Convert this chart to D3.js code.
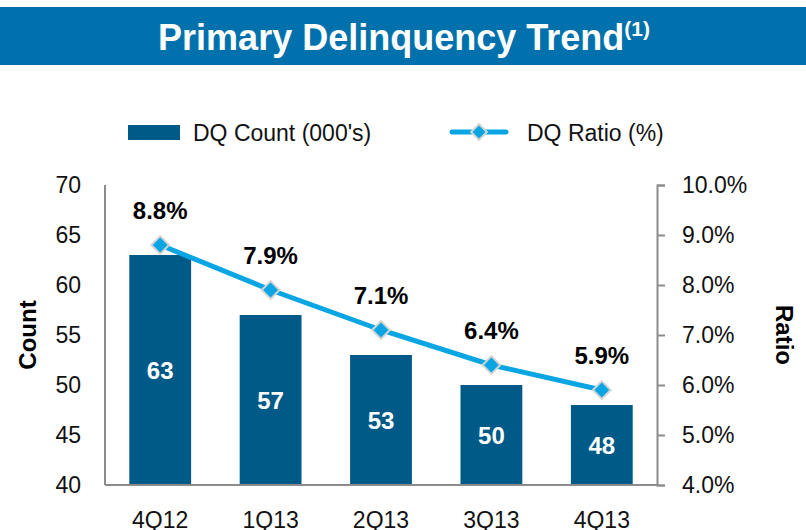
<!DOCTYPE html>
<html>
<head>
<meta charset="utf-8">
<script src="https://cdn.jsdelivr.net/npm/d3@7"></script>
<style>
  html, body { margin: 0; padding: 0; background: #fff; }
  svg { display: block; font-family: "Liberation Sans", Arial, sans-serif; }
</style>
</head>
<body>
<svg id="chart" width="806" height="530"></svg>
<script>
/* Primary Delinquency Trend — bars (count) + line (ratio) on dual axes */
const quarters = ["4Q12", "1Q13", "2Q13", "3Q13", "4Q13"];
const dqCount = [63, 57, 53, 50, 48];
const dqRatio = [8.8, 7.9, 7.1, 6.4, 5.9];
const countTicks = [40, 45, 50, 55, 60, 65, 70];
const ratioTicks = [4, 5, 6, 7, 8, 9, 10];

const BAR = "#005a87";
const LINE = "#0aa5e3";
const AXIS = "#8c8c8c";

const svg = d3.select("#chart");
const W = 806;
const m = { left: 105, right: 657, top: 185, bottom: 485 };

// title bar
svg.append("rect").attr("x", 0).attr("y", 7).attr("width", W).attr("height", 58).attr("fill", "#0071ad");
const title = svg.append("text")
  .attr("x", 404).attr("y", 50)
  .attr("text-anchor", "middle")
  .attr("fill", "#fff").attr("font-weight", "bold").attr("font-size", 36);
title.append("tspan").text("Primary Delinquency Trend");
title.append("tspan").attr("font-size", 21).attr("dy", -14).text("(1)");

const x = d3.scaleBand().domain(quarters).range([m.left, m.right]).paddingInner(0.44).paddingOuter(0.22);
const yL = d3.scaleLinear().domain([40, 70]).range([m.bottom, m.top]);
const yR = d3.scaleLinear().domain([4, 10]).range([m.bottom, m.top]);

// bars
svg.append("g").selectAll("rect")
  .data(quarters)
  .join("rect")
  .attr("x", (d) => x(d))
  .attr("width", x.bandwidth())
  .attr("y", (d, i) => yL(dqCount[i]))
  .attr("height", (d, i) => yL(40) - yL(dqCount[i]))
  .attr("fill", BAR);

// bar labels
svg.append("g").selectAll("text")
  .data(quarters)
  .join("text")
  .attr("x", (d) => x(d) + x.bandwidth() / 2)
  .attr("y", (d, i) => (yL(dqCount[i]) + yL(40)) / 2 + 9)
  .attr("text-anchor", "middle")
  .attr("fill", "#fff").attr("font-weight", "bold").attr("font-size", 24)
  .text((d, i) => dqCount[i]);

// axes lines
const axes = svg.append("g").attr("stroke", AXIS).attr("stroke-width", 2).attr("fill", "none");
axes.append("line").attr("x1", m.left).attr("x2", m.left).attr("y1", m.top).attr("y2", m.bottom);
axes.append("line").attr("x1", m.left).attr("x2", m.right).attr("y1", m.bottom).attr("y2", m.bottom);

// left tick labels
svg.append("g").selectAll("text")
  .data(countTicks)
  .join("text")
  .attr("x", 81).attr("y", (d) => yL(d) + 8)
  .attr("text-anchor", "end").attr("font-size", 23).attr("fill", "#111")
  .text((d) => d);

// right axis
const rAxis = svg.append("g")
  .attr("transform", `translate(${m.right},0)`)
  .call(d3.axisRight(yR).tickValues(ratioTicks).tickSize(8).tickPadding(17).tickFormat((d) => d.toFixed(1) + "%"));
rAxis.select(".domain").attr("stroke", AXIS).attr("stroke-width", 2);
rAxis.selectAll(".tick line").attr("stroke", AXIS).attr("stroke-width", 2);
rAxis.selectAll(".tick text").attr("font-size", 23).attr("fill", "#111").attr("font-family", "Liberation Sans, Arial, sans-serif");

// x labels (cut at the bottom edge, as in the source)
svg.append("g").selectAll("text")
  .data(quarters)
  .join("text")
  .attr("x", (d) => x(d) + x.bandwidth() / 2)
  .attr("y", 528)
  .attr("text-anchor", "middle").attr("font-size", 23).attr("fill", "#111")
  .text((d) => d);

// axis titles
svg.append("text")
  .attr("transform", "translate(36,335) rotate(-90)")
  .attr("text-anchor", "middle").attr("font-weight", "bold").attr("font-size", 24)
  .text("Count");
svg.append("text")
  .attr("transform", "translate(776,335) rotate(90)")
  .attr("text-anchor", "middle").attr("font-weight", "bold").attr("font-size", 24)
  .text("Ratio");

// ratio line
const cx = (d) => x(d) + x.bandwidth() / 2;
const line = d3.line().x((d, i) => cx(quarters[i])).y((d) => yR(d));
svg.append("path")
  .datum(dqRatio)
  .attr("d", line)
  .attr("fill", "none").attr("stroke", LINE).attr("stroke-width", 5);

const diamond = d3.symbol().type(d3.symbolDiamond2).size(200);
svg.append("g").selectAll("path")
  .data(dqRatio)
  .join("path")
  .attr("transform", (d, i) => `translate(${cx(quarters[i])},${yR(d)})`)
  .attr("d", diamond)
  .attr("fill", LINE).attr("stroke", "#d4d4d4").attr("stroke-width", 2);

svg.append("g").selectAll("text")
  .data(dqRatio)
  .join("text")
  .attr("x", (d, i) => cx(quarters[i]))
  .attr("y", (d) => yR(d) - 26)
  .attr("text-anchor", "middle").attr("font-weight", "bold").attr("font-size", 24).attr("fill", "#000")
  .text((d) => d.toFixed(1) + "%");

// legend
const lg = svg.append("g");
lg.append("rect").attr("x", 128).attr("y", 125).attr("width", 52).attr("height", 15).attr("fill", BAR);
lg.append("text").attr("x", 193).attr("y", 141).attr("font-size", 23).attr("fill", "#111").text("DQ Count (000's)");
lg.append("line").attr("x1", 452).attr("x2", 506).attr("y1", 132).attr("y2", 132)
  .attr("stroke", LINE).attr("stroke-width", 5).attr("stroke-linecap", "round");
lg.append("path").attr("transform", "translate(479,132)")
  .attr("d", d3.symbol().type(d3.symbolDiamond2).size(160))
  .attr("fill", LINE).attr("stroke", "#d4d4d4").attr("stroke-width", 2);
lg.append("text").attr("x", 527).attr("y", 141).attr("font-size", 23).attr("fill", "#111").text("DQ Ratio (%)");
</script>
</body>
</html>
